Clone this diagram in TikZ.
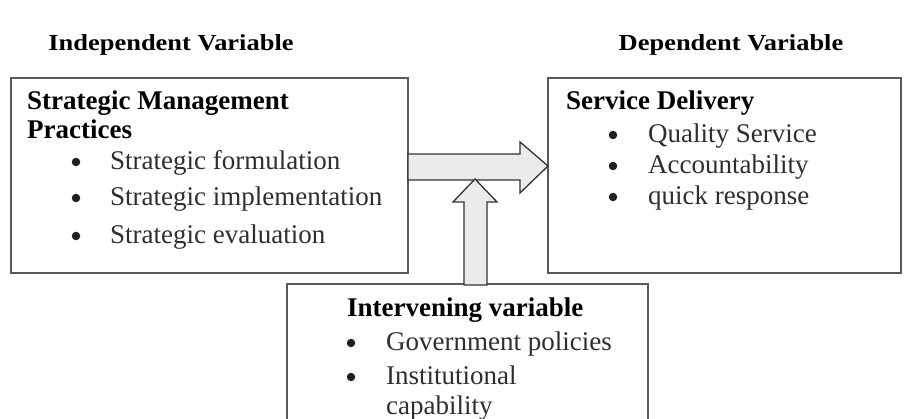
\documentclass[tikz,border=0pt]{standalone}
\usepackage{fontspec}
\setmainfont{Liberation Serif}
\begin{document}
\begin{tikzpicture}[x=1pt,y=-1pt,
  frame/.style={draw=black!65,line width=1.3pt},
  bigarrow/.style={draw=black!80,line width=1.3pt,fill=black!8,line join=miter},
  caption/.style={anchor=base,transform shape,xscale=1.15,inner sep=0pt,font=\bfseries\fontsize{23}{26}\selectfont},
  head/.style={anchor=base west,inner sep=0pt,font=\bfseries\fontsize{27}{30}\selectfont},
  item/.style={anchor=base west,inner sep=0pt,text=black!82,font=\fontsize{27}{30}\selectfont},
  dot/.style={circle,fill=black!88,inner sep=0pt,minimum size=8.5pt}]
\useasboundingbox (0,0) rectangle (915,419);

% column captions
\node[caption] (capL) at (171,51) {Independent Variable};
\node[caption] (capR) at (731,51) {Dependent Variable};

% frames
\draw[frame] (11,78) rectangle (408,273);
\draw[frame] (548,78) rectangle (901,273);
\draw[frame] (287,425) -- (287,284) -- (648,284) -- (648,425);

% left box
\node[head] (hL1) at (27,110) {Strategic Management};
\node[head] (hL2) at (27,139) {Practices};
\foreach \y/\t [count=\i] in {170/Strategic formulation,206/Strategic implementation,244/Strategic evaluation}{
  \node[dot] (bL\i) at (76,\y-8) {};
  \node[item] (iL\i) at (110,\y) {\t};
}

% right box
\node[head] (hR) at (566,110) {Service Delivery};
\foreach \y/\t [count=\i] in {143/Quality Service,174/Accountability,205/quick response}{
  \node[dot] (bR\i) at (613,\y-8) {};
  \node[item] (iR\i) at (648,\y) {\t};
}

% bottom box
\node[head] (hB) at (347,317) {Intervening variable};
\node[dot] (bB1) at (351,343) {};
\node[item] (iB1) at (386,350) {Government policies};
\node[dot] (bB2) at (351,377) {};
\node[item] (iB2) at (386,384) {Institutional};
\node[item] (iB3) at (386,414) {capability};

% block arrows
\draw[bigarrow] (408,154) -- (520,154) -- (520,142) -- (548,166) -- (520,193) -- (520,180) -- (408,180) -- cycle;
\draw[bigarrow] (464,285) -- (464,202) -- (453,202) -- (475,179) -- (497,202) -- (487,202) -- (487,285) -- cycle;
\end{tikzpicture}
\end{document}
